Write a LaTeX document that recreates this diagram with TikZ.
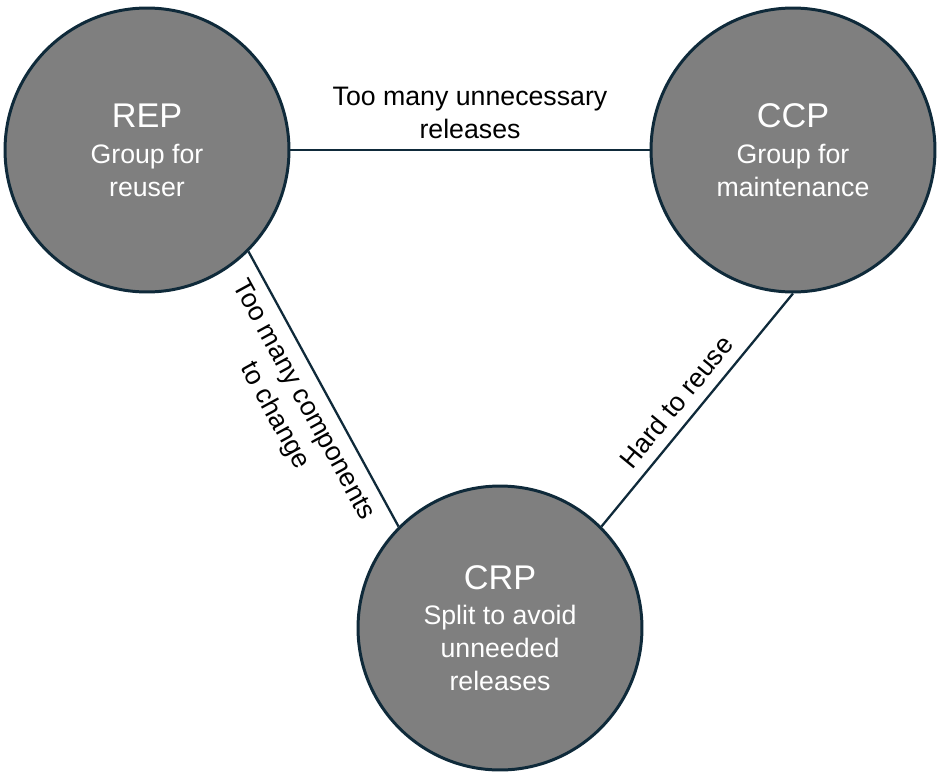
\documentclass[tikz,border=0pt]{standalone}
\usepackage{fontspec}
\setmainfont{Liberation Sans}
\usetikzlibrary{positioning}

\definecolor{circfill}{HTML}{7F7F7F}
\definecolor{navy}{HTML}{0F2A3A}

\begin{document}
\begin{tikzpicture}[
  x=0.02cm, y=-0.02cm,
  font=\fontsize{15.2}{18.7}\selectfont,
  c/.style={circle, draw=navy, line width=1.7pt, fill=circfill, text=white, align=center, minimum size=5.68cm, inner sep=0pt},
  ln/.style={draw=navy, line width=1.3pt},
  lbl/.style={align=center, inner sep=6pt}
]
\useasboundingbox (0,0) rectangle (943,778);
\node[c] (rep) at (147,150) {{\fontsize{19.5}{22}\selectfont REP}\\[1.7pt]Group for\\reuser};
\node[c] (ccp) at (793,150) {{\fontsize{19.5}{22}\selectfont CCP}\\[1.7pt]Group for\\maintenance};
\node[c] (crp) at (500,628) {{\fontsize{19.5}{22}\selectfont CRP}\\[1.7pt]Split to avoid\\unneeded\\releases};
\draw[ln] (rep) -- node[lbl, above] {Too many unnecessary\\releases} (ccp);
\draw[ln] (rep.-45) -- node[lbl, sloped, below] {Too many components\\to change} (crp.135);
\draw[ln] (ccp.south) -- node[lbl, sloped, above, xshift=-4pt] {Hard to reuse} (crp.45);
\end{tikzpicture}
\end{document}
